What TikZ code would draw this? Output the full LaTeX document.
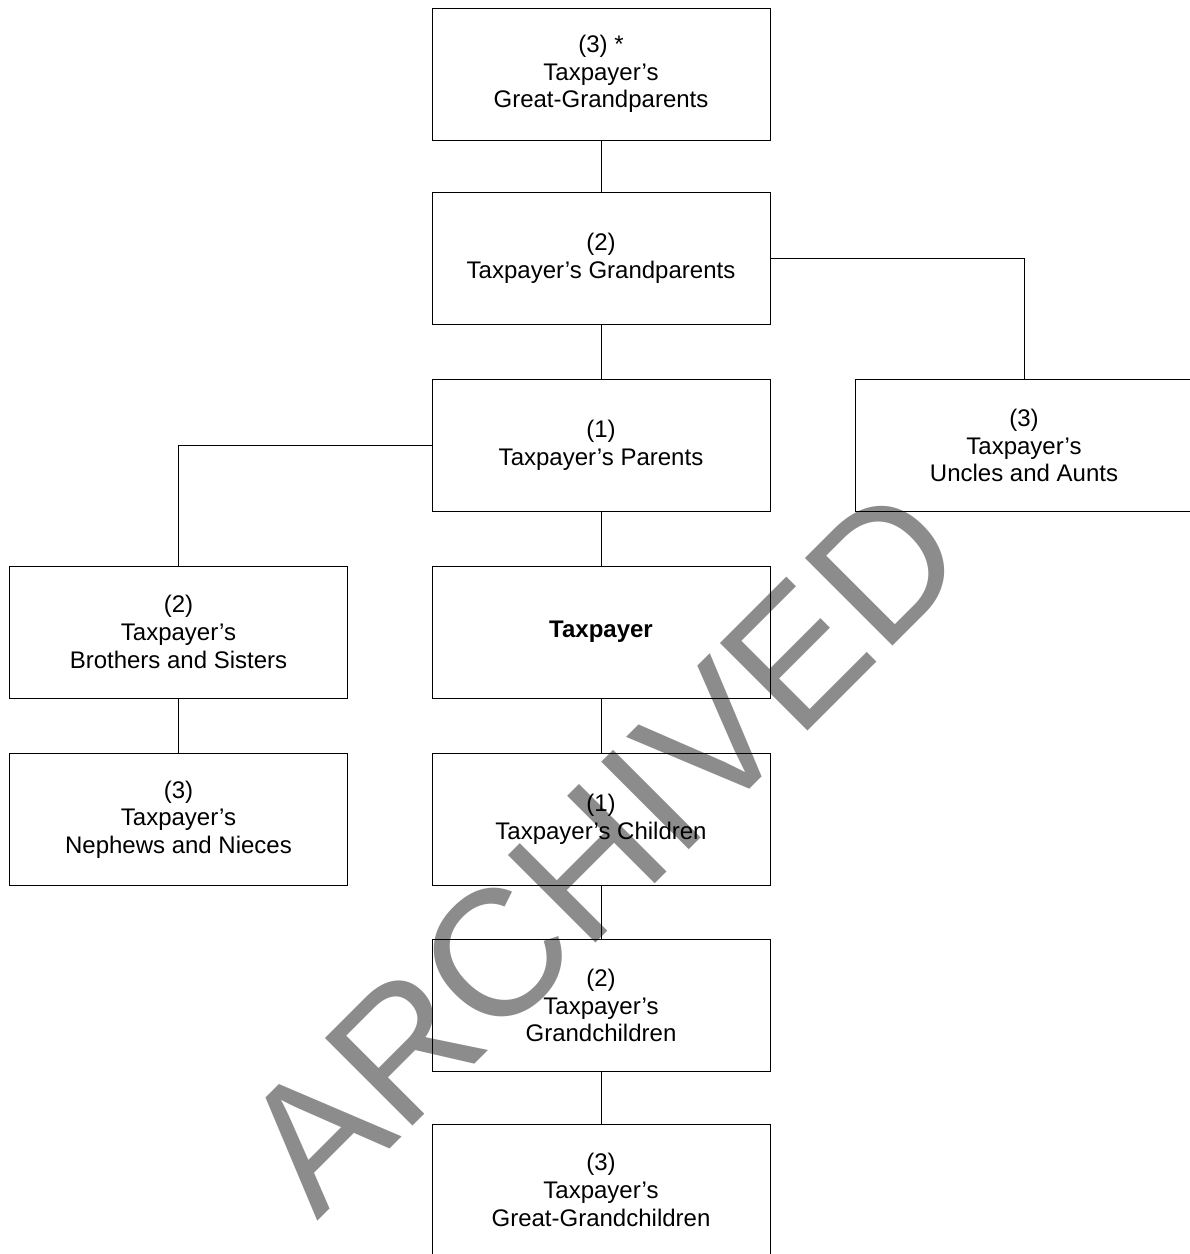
\documentclass[tikz,border=0pt]{standalone}
\usepackage{fontspec}
\setmainfont{Liberation Sans}
\begin{document}
\begin{tikzpicture}[x=1pt,y=-1pt,
  famBox/.style={draw=black, line width=0.9pt, rectangle, minimum width=338pt, minimum height=132pt,
    inner sep=0pt, align=center, font=\fontsize{24}{27.7}\selectfont},
  link/.style={draw=black, line width=0.9pt}]
\useasboundingbox (0,0) rectangle (1190,1254);
\clip (0,0) rectangle (1190,1254);
\fill[white] (0,0) rectangle (1190,1254);

\node[famBox] (ggp) at (601,74) {(3) *\\Taxpayer’s\\Great-Grandparents};
\node[famBox] (gp) at (601,258.5) {(2)\\Taxpayer’s Grandparents};
\node[famBox] (par) at (601,445.5) {(1)\\Taxpayer’s Parents};
\node[famBox] (unc) at (1024,445.5) {(3)\\Taxpayer’s\\Uncles and Aunts};
\node[famBox] (bro) at (178.5,632) {(2)\\Taxpayer’s\\Brothers and Sisters};
\node[famBox] (tp) at (601,632) {\bfseries Taxpayer};
\node[famBox] (nep) at (178.5,819.5) {(3)\\Taxpayer’s\\Nephews and Nieces};
\node[famBox] (chi) at (601,819.5) {(1)\\Taxpayer’s Children};
\node[famBox] (gch) at (601,1005.5) {(2)\\Taxpayer’s\\Grandchildren};
\node[famBox] (ggch) at (601,1190) {(3)\\Taxpayer’s\\Great-Grandchildren};

\draw[link] (ggp.south) -- (gp.north);
\draw[link] (gp.south) -- (par.north);
\draw[link] (gp.east) -| (unc.north);
\draw[link] (par.west) -| (bro.north);
\draw[link] (par.south) -- (tp.north);
\draw[link] (bro.south) -- (nep.north);
\draw[link] (tp.south) -- (chi.north);
\draw[link] (chi.south) -- (gch.north);
\draw[link] (gch.south) -- (ggch.north);

\node[rotate=45, anchor=base west, inner sep=0pt, text=black, opacity=0.45,
  font=\fontsize{180}{180}\selectfont] (wm) at (317,1222) {ARCHIVED};
\end{tikzpicture}
\end{document}
